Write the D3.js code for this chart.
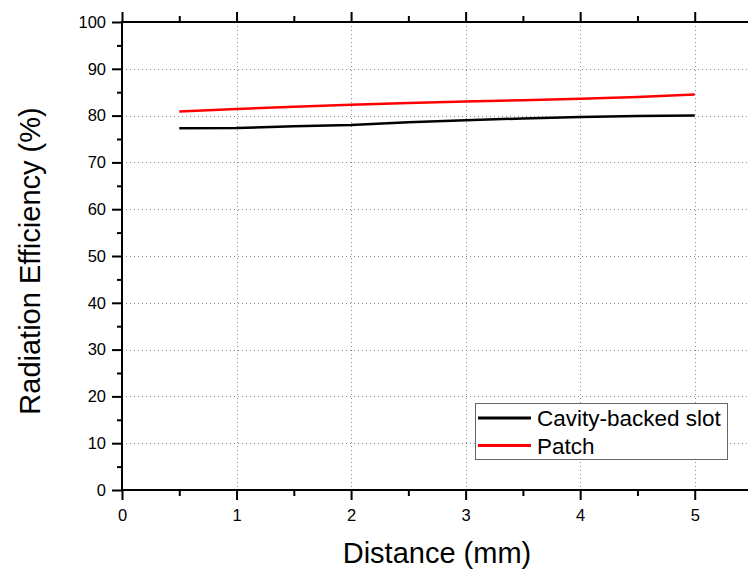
<!DOCTYPE html>
<html>
<head>
<meta charset="utf-8">
<script src="https://cdnjs.cloudflare.com/ajax/libs/d3/7.8.5/d3.min.js"></script>
<style>
  html, body { margin: 0; padding: 0; background: #fff; }
  svg { display: block; font-family: "Liberation Sans", Arial, sans-serif; }
</style>
</head>
<body>
<svg id="chart" width="748" height="577"></svg>
<script>
// Distance values (mm)
const distance = [0.5, 1, 1.5, 2, 2.5, 3, 3.5, 4, 4.5, 5];
// Radiation efficiency (%) for each antenna type
const cavitySlot = [77.3, 77.35, 77.7, 78.0, 78.6, 79.0, 79.4, 79.7, 79.9, 80.0];
const patch = [80.9, 81.4, 81.9, 82.3, 82.7, 83.0, 83.3, 83.6, 84.0, 84.5];
const seriesNames = ["Cavity-backed slot", "Patch"];
const seriesColors = ["#000000", "#ff0000"];
const xTicks = [0, 1, 2, 3, 4, 5];
const yTicks = [0, 10, 20, 30, 40, 50, 60, 70, 80, 90, 100];

const svg = d3.select("#chart");
const pL = 122, pR = 752, pT = 22, pB = 490;

const x = d3.scaleLinear().domain([0, 5.5]).range([pL, pR]);
const y = d3.scaleLinear().domain([0, 100]).range([pB, pT]);

// dotted grid
const grid = svg.append("g").attr("stroke", "#8a8a8a").attr("stroke-width", 1)
  .attr("stroke-dasharray", "1,3").attr("shape-rendering", "crispEdges");
grid.selectAll("line.gx").data(xTicks.filter(d => d > 0)).join("line")
  .attr("x1", d => Math.round(x(d)) + 0.5).attr("x2", d => Math.round(x(d)) + 0.5)
  .attr("y1", pT).attr("y2", pB);
grid.selectAll("line.gy").data(yTicks.filter(d => d > 0 && d < 100)).join("line")
  .attr("y1", d => Math.round(y(d)) + 0.5).attr("y2", d => Math.round(y(d)) + 0.5)
  .attr("x1", pL).attr("x2", pR);

// axes
const xMinor = d3.range(0.5, 5.6, 1);
const yMinor = d3.range(5, 100, 10);

const axisBottom = d3.axisBottom(x).tickValues(xTicks).tickSize(10).tickPadding(9).tickFormat(d3.format("d"));
const axisTop = d3.axisTop(x).tickValues(xTicks).tickSize(10).tickFormat("");
const axisLeft = d3.axisLeft(y).tickValues(yTicks).tickSize(10).tickPadding(6).tickFormat(d3.format("d"));

function style(g) {
  g.select(".domain").remove();
  g.selectAll(".tick line").attr("stroke", "#000").attr("stroke-width", 2);
  g.selectAll(".tick text").attr("fill", "#000").style("font-size", "16.5px")
    .style("font-family", "'Liberation Sans', Arial, sans-serif");
}

svg.append("g").attr("transform", `translate(0,${pB})`).call(axisBottom).call(style);
svg.append("g").attr("transform", `translate(0,${pT})`).call(axisTop).call(style);
svg.append("g").attr("transform", `translate(${pL},0)`).call(axisLeft).call(style);

// minor ticks
svg.append("g").attr("transform", `translate(0,${pB})`)
  .call(d3.axisBottom(x).tickValues(xMinor).tickSize(6).tickFormat("")).call(style);
svg.append("g").attr("transform", `translate(0,${pT})`)
  .call(d3.axisTop(x).tickValues(xMinor).tickSize(6).tickFormat("")).call(style);
svg.append("g").attr("transform", `translate(${pL},0)`)
  .call(d3.axisLeft(y).tickValues(yMinor).tickSize(5).tickFormat("")).call(style);

// frame lines
svg.append("line").attr("x1", pL).attr("x2", pL).attr("y1", pT - 1).attr("y2", pB + 1)
  .attr("stroke", "#000").attr("stroke-width", 2);
svg.append("line").attr("x1", pL - 1).attr("x2", pR).attr("y1", pT).attr("y2", pT)
  .attr("stroke", "#000").attr("stroke-width", 2);
svg.append("line").attr("x1", pL - 1).attr("x2", pR).attr("y1", pB).attr("y2", pB)
  .attr("stroke", "#000").attr("stroke-width", 2);

// data lines
const line = d3.line().x((d, i) => x(distance[i])).y(d => y(d));
[cavitySlot, patch].forEach((vals, i) => {
  svg.append("path").datum(vals).attr("d", line).attr("fill", "none")
    .attr("stroke", seriesColors[i]).attr("stroke-width", 2.5);
});

// legend
const lg = svg.append("g");
lg.append("rect").attr("x", 475.5).attr("y", 403.5).attr("width", 252).attr("height", 56)
  .attr("fill", "#fff").attr("stroke", "#666").attr("stroke-width", 1);
seriesNames.forEach((name, i) => {
  const yy = 418 + i * 27.5;
  lg.append("line").attr("x1", 478).attr("x2", 531).attr("y1", yy).attr("y2", yy)
    .attr("stroke", seriesColors[i]).attr("stroke-width", 2.8);
  lg.append("text").attr("x", 537).attr("y", yy + 8).text(name)
    .attr("fill", "#000").style("font-size", "22.5px");
});

// axis titles
svg.append("text").attr("x", 437).attr("y", 563).attr("text-anchor", "middle")
  .style("font-size", "29px").attr("fill", "#000").text("Distance (mm)");
svg.append("text").attr("transform", "translate(40,261) rotate(-90)").attr("text-anchor", "middle")
  .style("font-size", "29px").attr("fill", "#000").text("Radiation Efficiency (%)");
</script>
</body>
</html>
